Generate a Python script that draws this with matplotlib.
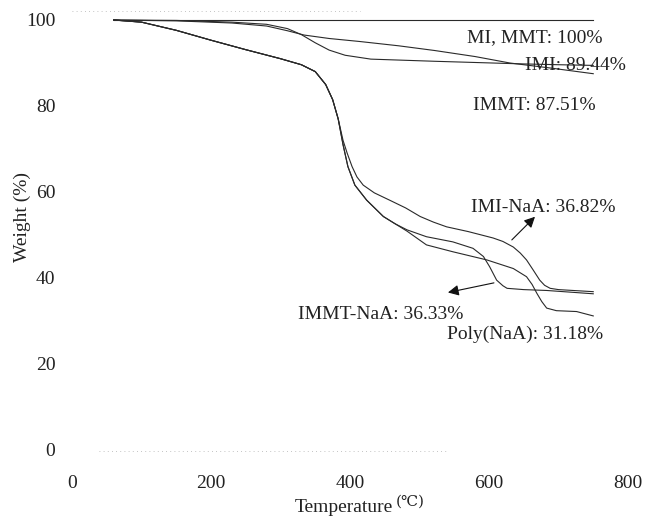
import matplotlib
matplotlib.use("Agg")
import matplotlib.pyplot as plt

plt.rcParams['font.family'] = ['Liberation Serif', 'DejaVu Sans']

# ---- data ----
t_mi_mmt = [60, 750]
w_mi_mmt = [100, 100]

t_imi = [60, 150, 230, 280, 310, 330, 350, 370, 393, 430, 522, 646, 700, 750]
w_imi = [100, 99.9, 99.5, 99.0, 98.0, 96.6, 94.7, 93.0, 91.8, 90.9, 90.4, 89.8, 89.6, 89.44]

t_immt = [60, 150, 230, 280, 310, 334, 370, 414, 470, 522, 580, 630, 690, 750]
w_immt = [100, 99.8, 99.3, 98.6, 97.5, 96.5, 95.7, 95.0, 94.0, 92.9, 91.5, 90.0, 88.8, 87.51]

t_imi_naa = [60, 100, 150, 200, 250, 300, 330, 350, 365, 375, 383, 390, 396, 403, 410, 419,
             435, 457, 480, 501, 520, 539, 570, 606, 620, 635, 645, 654, 663, 673, 680, 688,
             700, 750]
w_imi_naa = [100, 99.5, 97.6, 95.3, 93.1, 91.0, 89.6, 88.0, 85.0, 81.5, 77.0, 72.0, 69.0, 65.9,
             63.5, 61.6, 59.8, 58.1, 56.3, 54.3, 53.0, 51.9, 50.8, 49.3, 48.5, 47.2, 45.8, 44.2,
             42.0, 39.5, 38.3, 37.6, 37.3, 36.82]

t_immt_naa = [60, 100, 150, 200, 250, 300, 330, 350, 365, 375, 383, 390, 397, 407, 424, 448,
              465, 482, 510, 548, 577, 592, 601, 611, 620, 626, 650, 683, 750]
w_immt_naa = [100, 99.5, 97.6, 95.3, 93.1, 91.0, 89.6, 88.0, 85.0, 81.5, 77.0, 71.0, 65.9, 61.6,
              58.1, 54.3, 52.6, 51.2, 49.6, 48.4, 46.9, 45.0, 42.6, 39.5, 38.2, 37.6, 37.3,
              37.1, 36.33]

t_poly = [60, 100, 150, 200, 250, 300, 330, 350, 365, 375, 383, 390, 397, 407, 424, 448, 465,
          482, 510, 548, 597, 635, 654, 662, 669, 676, 683, 697, 726, 750]
w_poly = [100, 99.5, 97.6, 95.3, 93.1, 91.0, 89.6, 88.0, 85.0, 81.5, 77.0, 71.0, 65.9, 61.6,
          58.1, 54.3, 52.6, 50.9, 47.7, 46.1, 44.2, 42.2, 40.3, 38.5, 36.4, 34.5, 33.0, 32.4,
          32.2, 31.18]

x_ticks = [0, 200, 400, 600, 800]
y_ticks = [0, 20, 40, 60, 80, 100]

labels = ["MI, MMT: 100%", "IMI: 89.44%", "IMMT: 87.51%",
          "IMI-NaA: 36.82%", "IMMT-NaA: 36.33%", "Poly(NaA): 31.18%"]

# ---- figure ----
W, H = 648, 521
fig = plt.figure(figsize=(W / 100, H / 100), dpi=100)
ax = fig.add_axes([72 / W, (H - 450) / H, (628 - 72) / W, (450 - 20) / H])
ax.set_xlim(0, 800)
ax.set_ylim(0, 100)
for s in ax.spines.values():
    s.set_visible(False)

lc = '#2a2a2a'
lw = 0.8
for t, w in [(t_mi_mmt, w_mi_mmt), (t_imi, w_imi), (t_immt, w_immt),
             (t_imi_naa, w_imi_naa), (t_immt_naa, w_immt_naa), (t_poly, w_poly)]:
    ax.plot(t, w, color=lc, lw=lw, clip_on=False)

# faint remnants of frame lines
ax.plot([0, 415], [102.2, 102.2], color='#b0b0b0', lw=0.6, ls=(0, (1, 4)), clip_on=False)
ax.plot([39, 538], [-0.2, -0.2], color='#b0b0b0', lw=0.6, ls=(0, (1, 4)), clip_on=False)

ax.set_xticks(x_ticks)
ax.set_yticks(y_ticks)
ax.tick_params(length=0, labelsize=14, colors='#222222')
ax.tick_params(axis='y', pad=12)
ax.tick_params(axis='x', pad=18)

fig.text(22 / W, 1 - 217 / H, "Weight (%)", rotation=90, ha='center', va='center',
         fontsize=14, color='#222222')
fig.text(393 / W, 1 - 508 / H, "Temperature", ha='right', va='center', fontsize=14,
         color='#222222')
fig.text(396 / W, 1 - 502 / H, "(\u2103)", ha='left', va='center', fontsize=11,
         color='#222222', family=['DejaVu Serif', 'DejaVu Sans'])

fs = 14
tc = '#222222'
ax.text(666, 96, labels[0], ha='center', va='center', fontsize=fs, color=tc)
ax.text(724, 89.5, labels[1], ha='center', va='center', fontsize=fs, color=tc)
ax.text(665, 80, labels[2], ha='center', va='center', fontsize=fs, color=tc)
ax.text(678, 56.5, labels[3], ha='center', va='center', fontsize=fs, color=tc)
ax.text(444, 31.4, labels[4], ha='center', va='center', fontsize=fs, color=tc)
ax.text(652, 27, labels[5], ha='center', va='center', fontsize=fs, color=tc)

arrow = dict(arrowstyle='-|>', color='#111111', lw=0.8, mutation_scale=16)
ax.annotate('', xy=(669, 54.7), xytext=(630, 48.4), arrowprops=arrow)
ax.annotate('', xy=(537, 36.5), xytext=(611, 39.0), arrowprops=arrow)

fig.savefig("out.png", dpi=100)
